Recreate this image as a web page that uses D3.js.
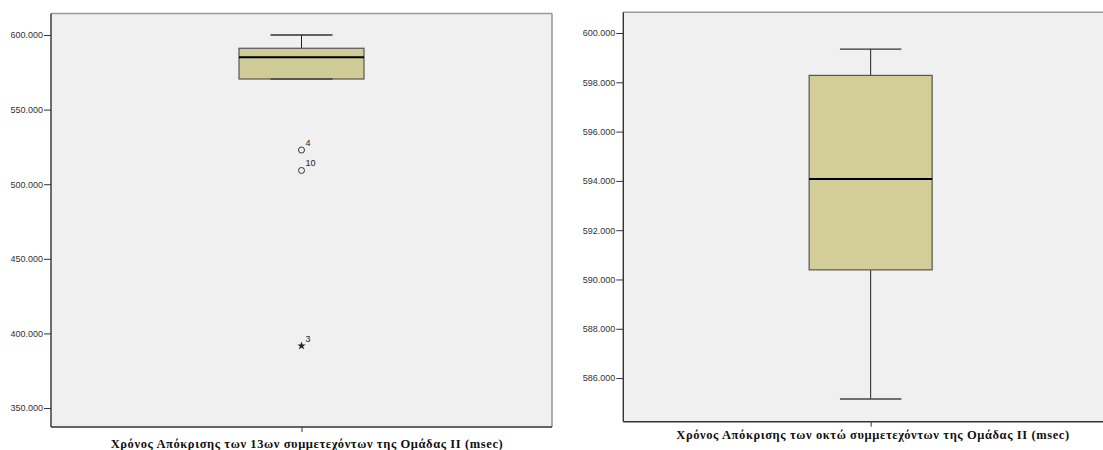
<!DOCTYPE html>
<html>
<head>
<meta charset="utf-8">
<script src="https://cdn.jsdelivr.net/npm/d3@7"></script>
<style>
  html, body { margin: 0; padding: 0; background: #ffffff; }
  svg { display: block; }
</style>
</head>
<body>
<svg id="chart" width="1103" height="450"></svg>
<script>
// ---- data ----
const categories = [
  "Χρόνος Απόκρισης των 13ων συμμετεχόντων της Ομάδας ΙΙ (msec)",
  "Χρόνος Απόκρισης των οκτώ συμμετεχόντων της Ομάδας ΙΙ (msec)"
];
const whiskerLow  = [570.5, 585.15];
const q1          = [570.5, 590.39];
const medians     = [585.05, 594.08];
const q3          = [591.1, 598.28];
const whiskerHigh = [600.0, 599.35];
const outlierValues = [522.9, 509.2];
const outlierLabels = ["4", "10"];
const extremeValues = [391.7];
const extremeLabels = ["3"];
const ticksLeft  = [350, 400, 450, 500, 550, 600];
const ticksRight = [586, 588, 590, 592, 594, 596, 598, 600];

// ---- layout ----
const svg = d3.select("#chart");
const fmt = d3.format(".3f");

const panels = [
  { i: 0, x0: 51, x1: 552, top: 13.5, bottom: 427, domain: [337.3, 614.4], ticks: ticksLeft,
    half: 62.5, cap: 31, labelX: 307, labelY: 448, rightBorder: true, fill: "#cfcc98",
    outliers: outlierValues.map((v, k) => ({ v, lab: outlierLabels[k] })),
    extremes: extremeValues.map((v, k) => ({ v, lab: extremeLabels[k] })) },
  { i: 1, x0: 623.3, x1: 1118, top: 12.3, bottom: 421.7, domain: [584.23, 600.84], ticks: ticksRight,
    half: 61.5, cap: 30.7, labelX: 873, labelY: 439, rightBorder: false, fill: "#d3ce97",
    outliers: [], extremes: [] }
];

panels.forEach(p => {
  const g = svg.append("g");
  const y = d3.scaleLinear().domain(p.domain).range([p.bottom, p.top]);
  const x = d3.scalePoint().domain([categories[p.i]]).range([p.x0, p.x1]).padding(0.5);
  const cx = x(categories[p.i]);

  // plot background
  g.append("rect")
    .attr("x", p.x0).attr("y", p.top)
    .attr("width", p.x1 - p.x0).attr("height", p.bottom - p.top)
    .attr("fill", "#f0f0f0");

  // frame: top & right (grey)
  g.append("line").attr("x1", p.x0).attr("x2", p.x1).attr("y1", p.top).attr("y2", p.top)
    .attr("stroke", "#9a9a9a").attr("stroke-width", 1.6);
  if (p.rightBorder) {
    g.append("line").attr("x1", p.x1).attr("x2", p.x1).attr("y1", p.top).attr("y2", p.bottom)
      .attr("stroke", "#9a9a9a").attr("stroke-width", 1.6);
  }

  // y axis
  const ya = g.append("g").attr("transform", `translate(${p.x0},0)`)
    .call(d3.axisLeft(y).tickValues(p.ticks).tickFormat(fmt).tickSize(7).tickPadding(1));
  ya.select(".domain").remove();
  ya.selectAll(".tick line").attr("stroke", "#333");
  ya.selectAll(".tick text").attr("fill", "#333")
    .style("font-family", "'Liberation Sans', Arial, sans-serif").style("font-size", "9px");

  // x axis
  const xa = g.append("g").attr("transform", `translate(0,${p.bottom})`)
    .call(d3.axisBottom(x).tickSize(5).tickFormat(""));
  xa.select(".domain").remove();
  xa.selectAll(".tick line").attr("stroke", "#333");

  // axis lines
  g.append("line").attr("x1", p.x0).attr("x2", p.x0).attr("y1", p.top).attr("y2", p.bottom)
    .attr("stroke", "#333").attr("stroke-width", 1.4);
  g.append("line").attr("x1", p.x0).attr("x2", p.x1).attr("y1", p.bottom).attr("y2", p.bottom)
    .attr("stroke", "#333").attr("stroke-width", 1.4);

  // x label
  g.append("text").attr("x", p.labelX).attr("y", p.labelY)
    .attr("text-anchor", "middle")
    .style("font-family", "'Liberation Serif', 'Times New Roman', serif")
    .style("font-size", "12.5px").style("font-weight", "bold")
    .style("letter-spacing", "0.6px")
    .attr("fill", "#111")
    .text(categories[p.i]);

  // whiskers
  g.append("line").attr("x1", cx).attr("x2", cx)
    .attr("y1", y(whiskerHigh[p.i])).attr("y2", y(q3[p.i])).attr("stroke", "#222");
  g.append("line").attr("x1", cx).attr("x2", cx)
    .attr("y1", y(q1[p.i])).attr("y2", y(whiskerLow[p.i])).attr("stroke", "#222");
  g.append("line").attr("x1", cx - p.cap).attr("x2", cx + p.cap)
    .attr("y1", y(whiskerHigh[p.i])).attr("y2", y(whiskerHigh[p.i])).attr("stroke", "#333").attr("stroke-width", 1.3);

  // box
  g.append("rect")
    .attr("x", cx - p.half).attr("width", 2 * p.half)
    .attr("y", y(q3[p.i])).attr("height", y(q1[p.i]) - y(q3[p.i]))
    .attr("fill", p.fill).attr("stroke", "#555").attr("stroke-width", 1.2);
  g.append("line").attr("x1", cx - p.cap).attr("x2", cx + p.cap)
    .attr("y1", y(whiskerLow[p.i])).attr("y2", y(whiskerLow[p.i])).attr("stroke", "#444").attr("stroke-width", 1.3);
  // median
  g.append("line").attr("x1", cx - p.half).attr("x2", cx + p.half)
    .attr("y1", y(medians[p.i])).attr("y2", y(medians[p.i])).attr("stroke", "#000").attr("stroke-width", 2);

  // outliers
  p.outliers.forEach(o => {
    g.append("circle").attr("cx", cx).attr("cy", y(o.v)).attr("r", 3)
      .attr("fill", "none").attr("stroke", "#333").attr("stroke-width", 1);
    g.append("text").attr("x", cx + 4).attr("y", y(o.v) - 4)
      .style("font-family", "'Liberation Sans', Arial, sans-serif").style("font-size", "9px")
      .attr("fill", "#222").text(o.lab);
  });
  p.extremes.forEach(o => {
    g.append("path").attr("transform", `translate(${cx},${y(o.v)})`)
      .attr("d", d3.symbol().type(d3.symbolStar).size(22)())
      .attr("fill", "#222");
    g.append("text").attr("x", cx + 4).attr("y", y(o.v) - 4)
      .style("font-family", "'Liberation Sans', Arial, sans-serif").style("font-size", "9px")
      .attr("fill", "#222").text(o.lab);
  });
});
</script>
</body>
</html>
